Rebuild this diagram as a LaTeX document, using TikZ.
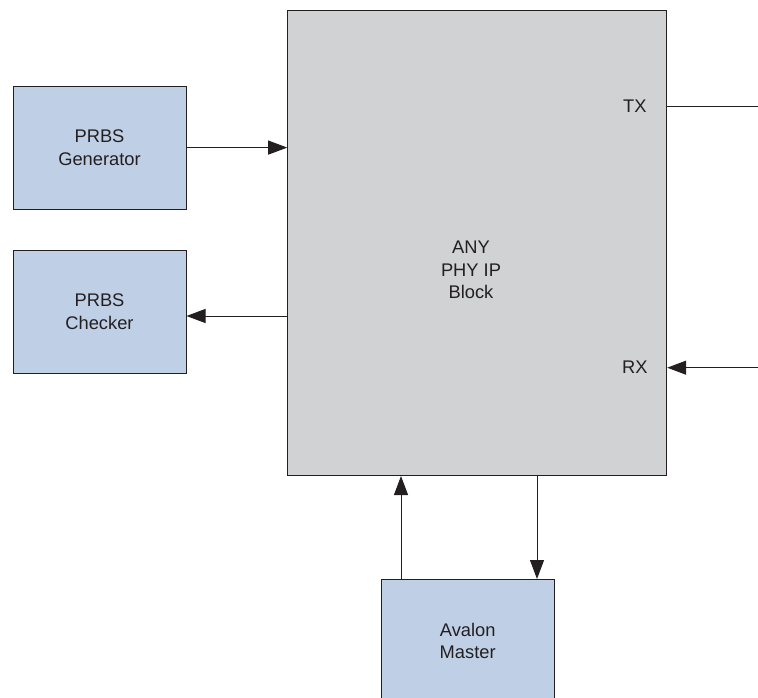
\documentclass[tikz,border=0pt]{standalone}
\usepackage{fontspec}
\setmainfont{Liberation Sans}
\usetikzlibrary{arrows.meta}

\definecolor{blockblue}{RGB}{191,208,230}
\definecolor{blockgray}{RGB}{209,210,212}
\definecolor{ink}{RGB}{35,31,32}

\tikzset{
    blk/.style={draw=ink, line width=1pt, minimum width=173pt, minimum height=123pt,
        fill=blockblue, align=center, font=\fontsize{18.3}{22.5}\selectfont, text=ink},
    arr/.style={-{Triangle[length=19pt,width=14pt]}, draw=ink, line width=1pt},
    lbl/.style={font=\fontsize{18.3}{22.5}\selectfont, text=ink, align=center}
}

\begin{document}
\begin{tikzpicture}[x=1pt,y=-1pt]
    \useasboundingbox (0,0) rectangle (758,698);

    \node[draw=ink, line width=1pt, fill=blockgray, minimum width=379pt, minimum height=465pt] (big) at (477.2,243) {};
    \node[lbl] (anyphy) at (471,270) {ANY\\PHY IP\\Block};
    \node[lbl, anchor=east] (txl) at (650,106.7) {TX};
    \node[lbl, anchor=east] (rxl) at (651,367.7) {RX};

    \node[blk] (gen) at (99.5,147.6) {PRBS\\Generator};
    \node[blk] (chk) at (99.5,311.5) {PRBS\\Checker};
    \node[blk] (ava) at (467.7,641) {Avalon\\Master};

    \coordinate (tx) at (758,106.7);
    \coordinate (rx) at (758,367.7);
    \coordinate (up) at (401,0);
    \coordinate (dn) at (537,0);

    \draw[arr] (gen.east) -- (gen.east -| big.west);
    \draw[arr] ([yshift=-4.5pt]chk.east -| big.west) -- ([yshift=-4.5pt]chk.east);
    \draw[draw=ink, line width=1pt] (big.east |- tx) -- (tx);
    \draw[arr] (rx) -- (big.east |- rx);
    \draw[arr] (ava.north -| up) -- (big.south -| up);
    \draw[arr] (big.south -| dn) -- (ava.north -| dn);
\end{tikzpicture}
\end{document}
